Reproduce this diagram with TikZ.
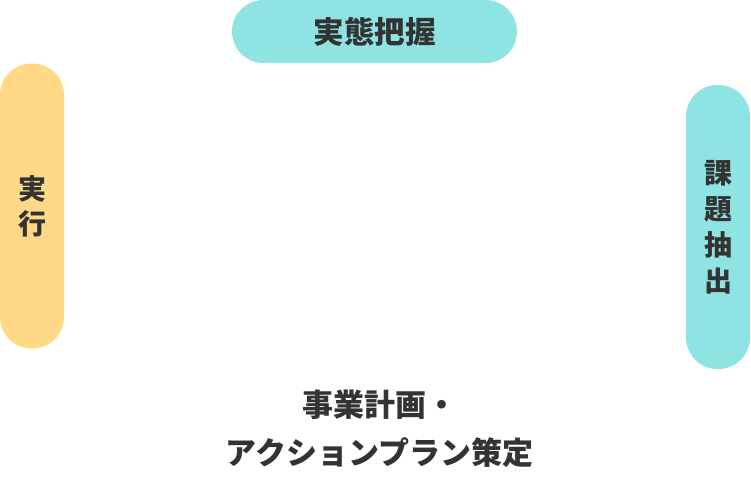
\documentclass[tikz,border=0pt]{standalone}
\usepackage{fontspec}
\usepackage{tikz}
\usetikzlibrary{calc, shapes, positioning}
\newfontfamily\jpfont{Noto Sans CJK JP}
\definecolor{teal1}{HTML}{8EE3E3}
\definecolor{yellow1}{HTML}{FFD985}
\definecolor{ink}{HTML}{333333}
\tikzset{pill/.style={fill=#1, rounded corners=31.5pt, inner sep=0pt, text=ink, align=center}}

\begin{document}
\begin{tikzpicture}[x=1pt, y=-1pt, font=\jpfont\bfseries]
     \useasboundingbox (0,0) rectangle (751,482);
     \node[pill=teal1, minimum width=285pt, minimum height=63pt, font=\jpfont\bfseries\fontsize{30.5}{35}\selectfont] (survey) at (374.5,31.5) {実態把握};
     \node[pill=yellow1, minimum width=64pt, minimum height=285pt, font=\jpfont\bfseries\fontsize{28}{35}\selectfont] (action) at (32,206) {実\\行};
     \node[pill=teal1, minimum width=64pt, minimum height=284pt, font=\jpfont\bfseries\fontsize{28}{36}\selectfont] (issue) at (718,227) {課\\題\\抽\\出};
     \node[text=ink, align=center, font=\jpfont\bfseries\fontsize{31}{48}\selectfont] (plan) at (379.5,429) {事業計画・\\アクションプラン策定};
\end{tikzpicture}
\end{document}
